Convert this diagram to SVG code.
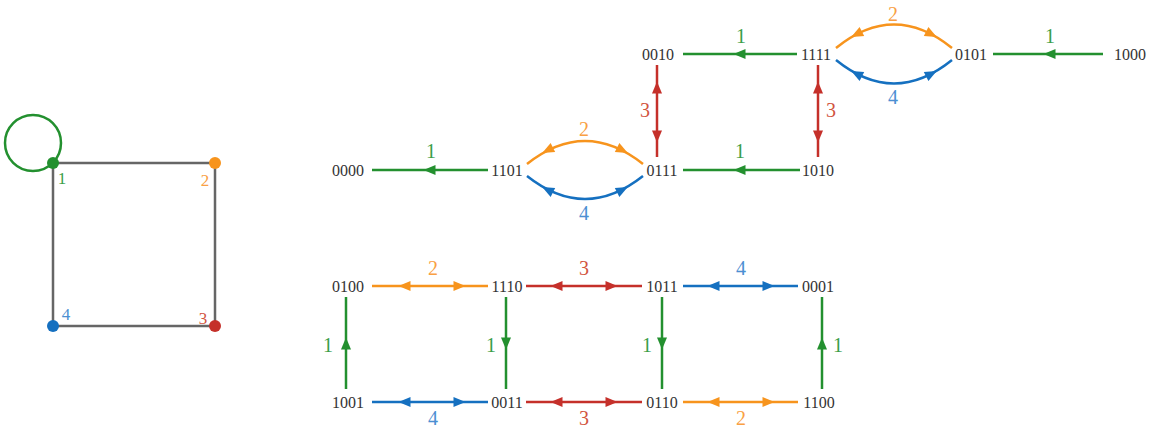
<svg xmlns="http://www.w3.org/2000/svg" width="1152" height="427" viewBox="0 0 1152 427">
<style>
.n{font-family:"Liberation Serif",serif;font-size:16px;fill:#333;text-anchor:middle;dominant-baseline:central}
.l{font-family:"Liberation Serif",serif;font-size:20px;text-anchor:middle;dominant-baseline:central}
.e{fill:none;stroke-width:2.5}
.g{stroke:#23902f}.o{stroke:#f7941d}.r{stroke:#c5302a}.b{stroke:#1570c0}
.fg{fill:#23902f}.fo{fill:#f7941d}.fr{fill:#c5302a}.fb{fill:#1570c0}
.tg{fill:#3a9e48}.to{fill:#f9a043}.tr{fill:#d2553f}.tb{fill:#4b8fd2}
.sq{stroke:#666;stroke-width:2.5;fill:none}
.sl{font-family:"Liberation Serif",serif;font-size:17px;text-anchor:middle;dominant-baseline:central}
</style>
<defs>
<path id="ah" d="M6.5,0 L-5.5,-5 L-5.5,5 Z"/>
</defs>

<g id="left-graph">
<rect class="sq" x="53" y="163" width="162" height="163"/>
<circle cx="33" cy="143" r="28" fill="none" stroke="#23902f" stroke-width="2.5"/>
<g id="v1"><circle cx="53" cy="163" r="6" class="fg"/><text class="sl tg" x="62" y="178">1</text></g>
<g id="v2"><circle cx="215" cy="163" r="6" class="fo"/><text class="sl to" x="205" y="180">2</text></g>
<g id="v3"><circle cx="215" cy="326" r="6" class="fr"/><text class="sl tr" x="203" y="318">3</text></g>
<g id="v4"><circle cx="53" cy="326" r="6" class="fb"/><text class="sl tb" x="66" y="314">4</text></g>
</g>

<g id="connectors">
<line class="e g" x1="683" y1="54" x2="797" y2="54"/><use href="#ah" class="fg" transform="translate(740,54) rotate(180)"/><text class="l tg" x="741" y="36">1</text>
<path class="e o" d="M836,48 Q894,1 952,48"/><use href="#ah" class="fo" transform="translate(857,34) rotate(152.6)"/><use href="#ah" class="fo" transform="translate(931,34) rotate(27.4)"/><text class="l to" x="893" y="14">2</text>
<path class="e b" d="M836,60 Q894,107 952,60"/><use href="#ah" class="fb" transform="translate(857,74) rotate(-152.6)"/><use href="#ah" class="fb" transform="translate(931,74) rotate(-27.4)"/><text class="l tb" x="893" y="97">4</text>
<line class="e g" x1="993" y1="54" x2="1103" y2="54"/><use href="#ah" class="fg" transform="translate(1050,54) rotate(180)"/><text class="l tg" x="1050" y="36">1</text>
<line class="e r" x1="657" y1="65" x2="657" y2="157"/><use href="#ah" class="fr" transform="translate(657,88) rotate(-90)"/><use href="#ah" class="fr" transform="translate(657,136) rotate(90)"/><text class="l tr" x="645" y="110">3</text>
<line class="e r" x1="818" y1="65" x2="818" y2="157"/><use href="#ah" class="fr" transform="translate(818,88) rotate(-90)"/><use href="#ah" class="fr" transform="translate(818,136) rotate(90)"/><text class="l tr" x="831" y="110">3</text>
<line class="e g" x1="372" y1="170" x2="488" y2="170"/><use href="#ah" class="fg" transform="translate(430,170) rotate(180)"/><text class="l tg" x="431" y="151">1</text>
<path class="e o" d="M527,164 Q585,118 643,164"/><use href="#ah" class="fo" transform="translate(548,150) rotate(153)"/><use href="#ah" class="fo" transform="translate(622,150) rotate(27)"/><text class="l to" x="584" y="129">2</text>
<path class="e b" d="M527,176 Q585,222 643,176"/><use href="#ah" class="fb" transform="translate(548,190) rotate(-153)"/><use href="#ah" class="fb" transform="translate(622,190) rotate(-27)"/><text class="l tb" x="584" y="213">4</text>
<line class="e g" x1="683" y1="170" x2="800" y2="170"/><use href="#ah" class="fg" transform="translate(740,170) rotate(180)"/><text class="l tg" x="740" y="151">1</text>
<line class="e o" x1="372" y1="286" x2="488" y2="286"/><use href="#ah" class="fo" transform="translate(405,286) rotate(180)"/><use href="#ah" class="fo" transform="translate(459,286)"/><text class="l to" x="433" y="268">2</text>
<line class="e r" x1="526" y1="286" x2="642" y2="286"/><use href="#ah" class="fr" transform="translate(557,286) rotate(180)"/><use href="#ah" class="fr" transform="translate(611,286)"/><text class="l tr" x="584" y="268">3</text>
<line class="e b" x1="683" y1="286" x2="798" y2="286"/><use href="#ah" class="fb" transform="translate(714,286) rotate(180)"/><use href="#ah" class="fb" transform="translate(768,286)"/><text class="l tb" x="741" y="268">4</text>
<line class="e b" x1="372" y1="402" x2="488" y2="402"/><use href="#ah" class="fb" transform="translate(405,402) rotate(180)"/><use href="#ah" class="fb" transform="translate(459,402)"/><text class="l tb" x="433" y="418">4</text>
<line class="e r" x1="526" y1="402" x2="642" y2="402"/><use href="#ah" class="fr" transform="translate(557,402) rotate(180)"/><use href="#ah" class="fr" transform="translate(611,402)"/><text class="l tr" x="584" y="418">3</text>
<line class="e o" x1="683" y1="402" x2="798" y2="402"/><use href="#ah" class="fo" transform="translate(714,402) rotate(180)"/><use href="#ah" class="fo" transform="translate(768,402)"/><text class="l to" x="741" y="418">2</text>
<line class="e g" x1="346" y1="297" x2="346" y2="389"/><use href="#ah" class="fg" transform="translate(346,344) rotate(-90)"/><text class="l tg" x="328" y="345">1</text>
<line class="e g" x1="506" y1="297" x2="506" y2="389"/><use href="#ah" class="fg" transform="translate(506,343) rotate(90)"/><text class="l tg" x="491" y="345">1</text>
<line class="e g" x1="662" y1="297" x2="662" y2="389"/><use href="#ah" class="fg" transform="translate(662,343) rotate(90)"/><text class="l tg" x="647" y="345">1</text>
<line class="e g" x1="822" y1="297" x2="822" y2="389"/><use href="#ah" class="fg" transform="translate(822,344) rotate(-90)"/><text class="l tg" x="838" y="345">1</text>
</g>

<g id="n0010"><text class="n" x="658" y="54">0010</text></g>
<g id="n1111"><text class="n" x="816" y="54">1111</text></g>
<g id="n0101"><text class="n" x="971" y="54">0101</text></g>
<g id="n1000"><text class="n" x="1130" y="54">1000</text></g>
<g id="n0000"><text class="n" x="348" y="170">0000</text></g>
<g id="n1101"><text class="n" x="507" y="170">1101</text></g>
<g id="n0111"><text class="n" x="662" y="170">0111</text></g>
<g id="n1010"><text class="n" x="818" y="170">1010</text></g>
<g id="n0100"><text class="n" x="348" y="286">0100</text></g>
<g id="n1110"><text class="n" x="507" y="286">1110</text></g>
<g id="n1011"><text class="n" x="662" y="286">1011</text></g>
<g id="n0001"><text class="n" x="818" y="286">0001</text></g>
<g id="n1001"><text class="n" x="348" y="402">1001</text></g>
<g id="n0011"><text class="n" x="507" y="402">0011</text></g>
<g id="n0110"><text class="n" x="662" y="402">0110</text></g>
<g id="n1100"><text class="n" x="819" y="402">1100</text></g>
</svg>
